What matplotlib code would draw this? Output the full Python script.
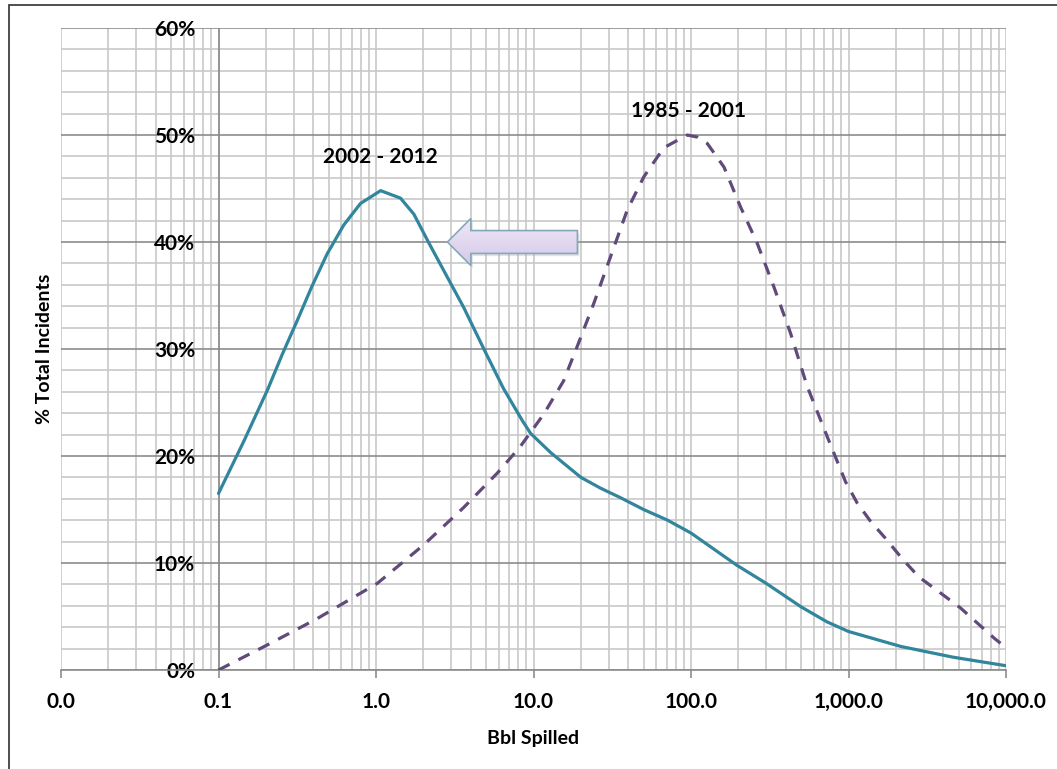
import matplotlib
matplotlib.use('Agg')
import matplotlib.pyplot as plt
import numpy as np
from matplotlib.patches import Polygon, Rectangle
from matplotlib.colors import LinearSegmentedColormap
from matplotlib.ticker import FixedLocator, FixedFormatter, LogLocator, NullFormatter

plt.rcParams['font.family'] = ['Lato', 'DejaVu Sans']
plt.rcParams['font.weight'] = 'bold'
plt.rcParams['axes.labelweight'] = 'bold'

# 2002 - 2012 (solid)
recent_x = [0.1, 0.145, 0.205, 0.254, 0.317, 0.393, 0.49, 0.625, 0.797, 1.07,
            1.43, 1.74, 2.15, 2.7, 3.6, 4.84, 6.45, 8.5, 9.6, 12.9, 20, 26.6, 35.7,
            50, 71, 100, 195, 300, 500, 730, 1000, 2150, 4600, 10000]
recent_y = [16.5, 21.4, 26.2, 29.5, 32.7, 35.9, 38.9, 41.6, 43.6, 44.8,
            44.1, 42.6, 40.0, 37.3, 33.9, 30.0, 26.3, 23.3, 22.1, 20.3, 18.0, 17.0, 16.1,
            15.0, 14.0, 12.8, 9.8, 8.1, 5.9, 4.5, 3.6, 2.2, 1.2, 0.4]

# 1985 - 2001 (dashed)
old_x = [0.1, 0.214, 0.423, 1.02, 2.01, 3.61, 5.89, 8.26, 11.6, 15.5, 18.9, 24.2, 30.8,
         39.4, 50.2, 67.1, 94.6, 110, 127, 162, 206, 263, 336, 428, 547, 733, 957, 1136,
         1380, 1718, 2193, 2795, 3837, 5140, 6561, 8375, 9226]
old_y = [0.0, 2.5, 4.8, 8.1, 11.7, 15.2, 18.4, 20.9, 23.9, 27.0, 30.2, 34.3, 38.6,
         43.0, 46.1, 48.8, 50.0, 49.8, 49.2, 47.0, 43.3, 39.9, 35.8, 31.5, 26.5, 21.8, 17.6,
         15.6, 13.9, 12.3, 10.4, 8.7, 7.2, 5.8, 4.4, 3.0, 2.5]

x_ticks = [0.01, 0.1, 1, 10, 100, 1000, 10000]
x_labels = ['0.0', '0.1', '1.0', '10.0', '100.0', '1,000.0', '10,000.0']
y_ticks = [0, 10, 20, 30, 40, 50, 60]
y_labels = ['0%', '10%', '20%', '30%', '40%', '50%', '60%']

W, H = 1057, 769
fig = plt.figure(figsize=(W / 100, H / 100), dpi=100)
ax = fig.add_axes([61 / W, (H - 670) / H, (1006 - 61) / W, (670 - 28) / H])

ax.set_xscale('log')

light = '#c8c8c8'
dark = '#8c8c8c'

ax.xaxis.set_major_locator(FixedLocator(x_ticks))
ax.xaxis.set_major_formatter(FixedFormatter(x_labels))
ax.xaxis.set_minor_locator(LogLocator(base=10, subs=range(2, 10), numticks=20))
ax.xaxis.set_minor_formatter(NullFormatter())
ax.yaxis.set_major_locator(FixedLocator(y_ticks))
ax.yaxis.set_major_formatter(FixedFormatter(y_labels))
ax.yaxis.set_minor_locator(FixedLocator(range(0, 61, 2)))

ax.set_axisbelow(True)
ax.grid(which='both', axis='x', color=light, lw=1.2)
ax.grid(which='minor', axis='y', color=light, lw=1.2)
ax.grid(which='major', axis='y', color=dark, lw=1.2)

for s in ['top', 'right', 'left']:
    ax.spines[s].set_visible(False)
ax.spines['bottom'].set_color(dark)
ax.spines['bottom'].set_linewidth(1.2)
ax.axvline(0.1, color=dark, lw=1.2, zorder=1.5)

ax.tick_params(axis='x', which='major', length=6, color=dark, width=1.2,
               pad=10, labelsize=15)
ax.tick_params(axis='x', which='minor', length=0)
ax.tick_params(axis='y', which='both', length=0)
ax.tick_params(axis='y', which='major', pad=-96.5, labelsize=15)

ax.plot(recent_x, recent_y, color='#31859c', lw=2.3, solid_capstyle='round',
        solid_joinstyle='round', zorder=3)
ax.plot(old_x, old_y, color='#604a7b', lw=2.3, dashes=(3.9, 3.1),
        dash_capstyle='butt', dash_joinstyle='round', zorder=3)

ax.text(1.07, 47.9, '2002 - 2012', ha='center', va='center', fontsize=15)
ax.text(97, 52.2, '1985 - 2001', ha='center', va='center', fontsize=15)

# block arrow pointing from the old peak to the new one
tip, back, tail = 2.84, 4.0, 19.0
yc, head, shaft = 40.0, 2.2, 1.07
pts = [(tip, yc), (back, yc + head), (back, yc + shaft), (tail, yc + shaft),
       (tail, yc - shaft), (back, yc - shaft), (back, yc - head)]
shadow = Polygon([(px * 1.03, py - 0.25) for px, py in pts], closed=True,
                 fc='#b0b0b0', ec='none', alpha=0.35, zorder=3.9)
ax.add_patch(shadow)
arrow = Polygon(pts, closed=True, fc='none', ec='#86a9b8', lw=1.2, zorder=4.1)
ax.add_patch(arrow)
grad_cmap = LinearSegmentedColormap.from_list('lav', ['#d5c8ea', '#efe9f8'])
img = ax.imshow(np.linspace(0, 1, 64).reshape(-1, 1), extent=[tip, tail, yc - head, yc + head],
                origin='lower', aspect='auto', cmap=grad_cmap, zorder=4, interpolation='bilinear')
clip = Polygon(pts, closed=True, transform=ax.transData)
img.set_clip_path(clip)

ax.set_xlim(0.01, 10000)
ax.set_ylim(0, 60)

ax.set_xlabel('Bbl Spilled', fontsize=14)
ax.xaxis.set_label_coords(0.5, -0.093)
ax.xaxis.label.set_va('top')
ax.set_ylabel('% Total Incidents', fontsize=14)
ax.yaxis.set_label_coords(-0.0085, 0.5)

fig.add_artist(Rectangle((9 / W, -0.05), 1.1, 1 - 5 / H + 0.05, transform=fig.transFigure,
                         fill=False, ec='#404040', lw=1.3))

fig.savefig('out.png', dpi=100)
